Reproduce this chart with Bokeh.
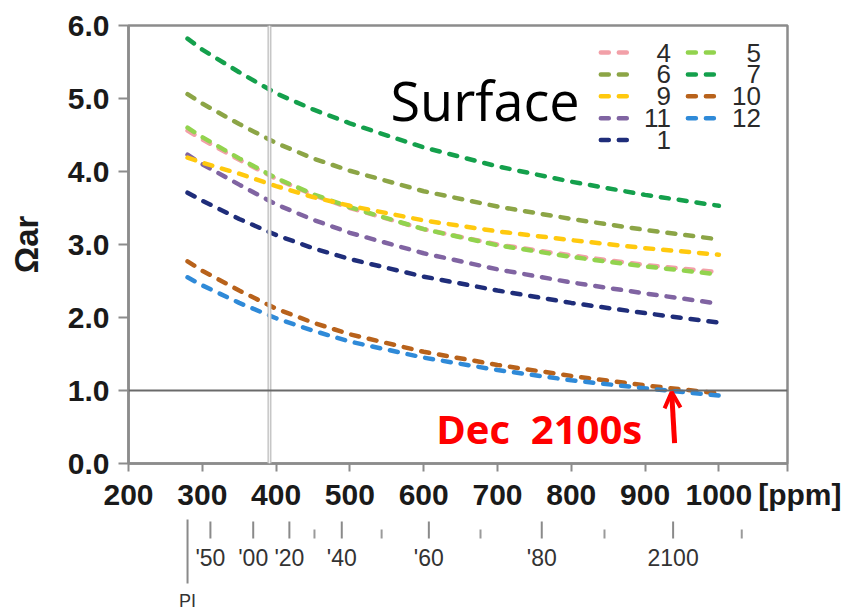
from bokeh.plotting import figure
from bokeh.models import (Range1d, FixedTicker, Span, Label, Arrow, OpenHead,
                          ColumnDataSource, PrintfTickFormatter)
from bokeh.layouts import column
from bokeh.embed import file_html
from bokeh.resources import INLINE
from bokeh.core.properties import value

# ---------------- data ----------------
co2_ppm = [280, 300, 350, 400, 450, 500, 600, 700, 800, 900, 1000]

omega_m1 = [3.71, 3.60, 3.35, 3.13, 2.95, 2.80, 2.56, 2.37, 2.20, 2.06, 1.93]
omega_m4 = [4.56, 4.44, 4.16, 3.90, 3.68, 3.50, 3.21, 3.00, 2.85, 2.72, 2.62]
omega_m5 = [4.60, 4.47, 4.18, 3.91, 3.69, 3.51, 3.21, 2.99, 2.83, 2.70, 2.59]
omega_m6 = [5.06, 4.93, 4.65, 4.39, 4.18, 4.01, 3.73, 3.52, 3.35, 3.20, 3.07]
omega_m7 = [5.82, 5.67, 5.36, 5.07, 4.85, 4.66, 4.33, 4.07, 3.86, 3.68, 3.53]
omega_m9 = [4.19, 4.12, 3.97, 3.80, 3.65, 3.53, 3.33, 3.18, 3.06, 2.95, 2.86]
omega_m10 = [2.77, 2.64, 2.37, 2.12, 1.93, 1.77, 1.53, 1.35, 1.20, 1.07, 0.96]
omega_m11 = [4.23, 4.10, 3.82, 3.55, 3.34, 3.16, 2.88, 2.66, 2.48, 2.33, 2.19]
omega_m12 = [2.55, 2.44, 2.20, 1.99, 1.82, 1.67, 1.45, 1.28, 1.14, 1.03, 0.93]

x_ticks = [200, 300, 400, 500, 600, 700, 800, 900, 1000]
y_ticks = [0, 1, 2, 3, 4, 5, 6]
x_unit_label = "[ppm]"

present_ppm = 391          # vertical reference line (today)
saturation_level = 1.0     # Omega_ar = 1
dec_cross_ppm = 936        # December curve crosses Omega = 1

year_labels = ["'50", "'00", "'20", "'40", "'60", "'80", "2100"]
year_ppm = [311, 369, 418, 489, 607, 760, 938]
year_minor_ppm = [452, 543, 677, 845, 1031]
pi_ppm = 280

legend_labels = ["4", "5", "6", "7", "9", "10", "11", "12", "1"]

series = {
    "1": (omega_m1, "#1f2d7a"),
    "4": (omega_m4, "#f2a0a8"),
    "5": (omega_m5, "#92d34e"),
    "6": (omega_m6, "#8ca546"),
    "7": (omega_m7, "#14a04c"),
    "9": (omega_m9, "#ffc90e"),
    "10": (omega_m10, "#b8621b"),
    "11": (omega_m11, "#8064a2"),
    "12": (omega_m12, "#2f8ad8"),
}
draw_order = ["1", "11", "4", "5", "6", "7", "9", "10", "12"]

AX = "#8c8c8c"
DASH = "8 10"

# ---------------- geometry ----------------
W = 841
FRAME_L, FRAME_R, FRAME_T, FRAME_B = 128, 787, 25, 463
X0, X1 = 200, 1093
MAIN_H = 515
STRIP_H = 615 - MAIN_H

# ---------------- main figure ----------------
p = figure(width=W, height=MAIN_H, x_range=Range1d(X0, X1), y_range=Range1d(0, 6),
           output_backend="svg", toolbar_location=None,
           min_border_left=FRAME_L, min_border_right=W - FRAME_R,
           min_border_top=FRAME_T, min_border_bottom=MAIN_H - FRAME_B)
p.xgrid.visible = False
p.ygrid.visible = False
p.outline_line_color = AX
p.outline_line_width = 2.5
p.background_fill_color = "white"
p.border_fill_color = "white"

p.xaxis.ticker = FixedTicker(ticks=x_ticks + [X1])
p.xaxis.major_label_overrides = {X1: "\u00a0\u00a0\u00a0\u00a0" + x_unit_label}
p.yaxis.ticker = FixedTicker(ticks=y_ticks)
p.yaxis.formatter = PrintfTickFormatter(format="%.1f")
for ax in (p.xaxis, p.yaxis):
    ax.axis_line_color = AX
    ax.axis_line_width = 2.5
    ax.major_tick_line_color = AX
    ax.major_tick_line_width = 2
    ax.major_tick_in = 0
    ax.minor_tick_in = 0
    ax.minor_tick_out = 0
    ax.major_label_text_font = "Liberation Sans"
    ax.major_label_text_font_style = "bold"
    ax.major_label_text_font_size = "30px"
    ax.major_label_text_color = "#1a1a1a"
p.xaxis.major_tick_out = 8
p.xaxis.major_label_standoff = 6
p.yaxis.major_tick_out = 10
p.yaxis.major_label_standoff = 9
p.yaxis.axis_label = "Ωar"
p.yaxis.axis_label_text_font = "Liberation Sans"
p.yaxis.axis_label_text_font_style = "bold"
p.yaxis.axis_label_text_font_size = "33px"
p.yaxis.axis_label_text_color = "#1a1a1a"
p.yaxis.axis_label_standoff = 20

p.add_layout(Span(location=present_ppm, dimension="height", line_color="#c4c4c4", line_width=4))
p.add_layout(Span(location=present_ppm, dimension="height", line_color="#f2f2f2", line_width=1.2))
p.add_layout(Span(location=saturation_level, dimension="width", line_color="#6a6a6a", line_width=2))

for m in draw_order:
    vals, col = series[m]
    p.line(co2_ppm, vals, line_color=col, line_width=4.5, line_dash=DASH, line_cap="round")

# legend (two columns, row-major)
col_x0 = [840, 958]
col_text_x = [935, 1057]
row_y0 = 5.63
row_step = 0.30
sample_len = 40
lx0, lx1, ly, ltx, lcol = [], [], [], [], []
for i, lab in enumerate(legend_labels):
    r, c = divmod(i, 2)
    y = row_y0 - r * row_step
    lx0.append(col_x0[c])
    lx1.append(col_x0[c] + sample_len)
    ly.append(y)
    ltx.append(col_text_x[c])
    lcol.append(series[lab][1])
leg = ColumnDataSource(dict(x0=lx0, x1=lx1, y=ly, tx=ltx, color=lcol, label=legend_labels))
p.segment(x0="x0", y0="y", x1="x1", y1="y", line_color="color", line_width=4.5,
          line_dash=DASH, line_cap="round", source=leg)
p.text(x="tx", y="y", text="label", source=leg, text_align="right", text_baseline="middle",
       text_font=value("Liberation Sans"), text_font_size="26px", text_color="#2a2a2a")

p.add_layout(Label(x=555, y=4.98, text="Surface", text_font="Open Sans",
                   text_font_size="54px", text_color="black", text_baseline="alphabetic"))
p.add_layout(Label(x=617, y=0.48, text="Dec\u00a0 2100s", text_font="Open Sans",
                   text_font_style="bold", text_font_size="40px", text_color="#ff0000",
                   text_baseline="alphabetic"))
p.add_layout(Arrow(end=OpenHead(size=16, line_color="#ff0000", line_width=4),
                   x_start=dec_cross_ppm + 4, y_start=0.28, x_end=dec_cross_ppm, y_end=0.98,
                   line_color="#ff0000", line_width=5))

# ---------------- strip: year scale ----------------
p2 = figure(width=W, height=STRIP_H, x_range=p.x_range, y_range=Range1d(0, STRIP_H),
            output_backend="svg", toolbar_location=None,
            min_border_left=FRAME_L, min_border_right=W - FRAME_R,
            min_border_top=0, min_border_bottom=0,
            x_axis_location=None, y_axis_location=None)
p2.outline_line_color = None
p2.xgrid.visible = False
p2.ygrid.visible = False
p2.background_fill_color = "white"
p2.border_fill_color = "white"

def sy(py):  # page pixel row -> strip y value
    return 615 - py

p2.segment(x0=year_ppm, y0=[sy(521)] * len(year_ppm), x1=year_ppm, y1=[sy(538)] * len(year_ppm),
           line_color="#8a8a8a", line_width=2)
p2.segment(x0=year_minor_ppm, y0=[sy(529)] * len(year_minor_ppm), x1=year_minor_ppm,
           y1=[sy(538)] * len(year_minor_ppm), line_color="#9a9a9a", line_width=2)
p2.segment(x0=[pi_ppm], y0=[sy(519)], x1=[pi_ppm], y1=[sy(583)], line_color="#8a8a8a", line_width=2)
p2.text(x=year_ppm, y=[sy(557)] * len(year_ppm), text=year_labels, text_align="center",
        text_baseline="middle", text_font=value("Liberation Sans"), text_font_size="23px",
        text_color="#333333")
p2.text(x=[pi_ppm], y=[sy(600)], text=["PI"], text_align="center", text_baseline="middle",
        text_font=value("Liberation Sans"), text_font_size="18px", text_color="#333333")

layout = column(p, p2, spacing=0)
open("out.html", "w").write(file_html(layout, INLINE))
